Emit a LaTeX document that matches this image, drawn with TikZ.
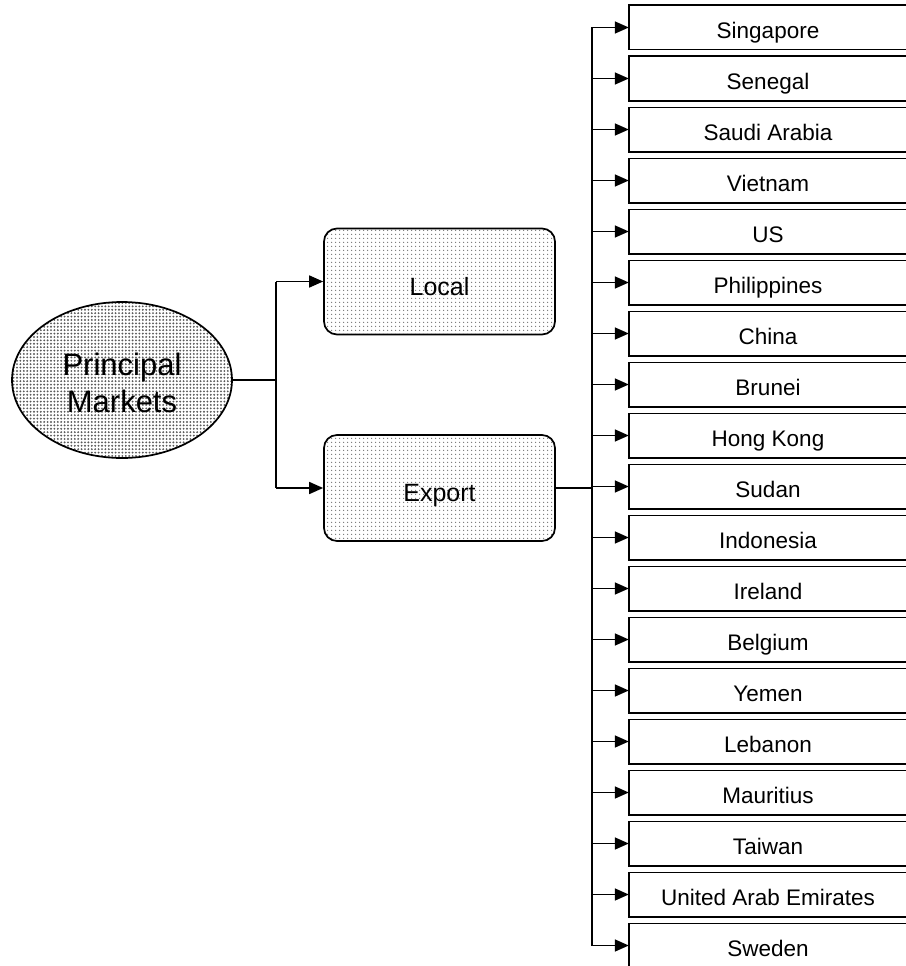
\documentclass[tikz,border=0pt]{standalone}
\usepackage{fontspec}
\setmainfont{Liberation Sans}
\usetikzlibrary{arrows.meta,patterns.meta,shapes.geometric}
\begin{document}
\begin{tikzpicture}[x=1pt,y=-1pt,
  conn/.style={line width=1.6pt},
  arr/.style={line width=1.6pt,-{Triangle[length=14pt,width=12pt]}},
  ovalbox/.style={ellipse,draw,line width=1.7pt,minimum width=220pt,minimum height=156pt,inner sep=0pt,
    pattern={Dots[distance=3.4pt,radius=1.05pt]},pattern color=black!65,
    font=\fontsize{31}{37}\selectfont},
  roundbox/.style={draw,line width=1.7pt,rounded corners=13pt,minimum width=231pt,minimum height=106pt,inner sep=0pt,
    pattern={Dots[distance=4pt,radius=0.85pt]},pattern color=black!55,
    font=\fontsize{25}{28}\selectfont,text height=27.5pt,text depth=0pt},
  ctext/.style={minimum width=278pt,minimum height=44pt,inner sep=0pt,font=\fontsize{22.5}{26}\selectfont,
    text height=21pt,text depth=0pt},
  cside/.style={line width=1.6pt}
]
\useasboundingbox (0,0) rectangle (905,966);
\node[ovalbox] (pm) at (122,380) {\raisebox{-13pt}[0pt][0pt]{\renewcommand{\arraystretch}{1}\begin{tabular}{@{}c@{}}Principal\\Markets\end{tabular}}};
\node[roundbox] (local) at (439.5,281.5) {Local};
\node[roundbox] (export) at (439.5,488) {Export};
\coordinate (sj) at (276,380);
\coordinate (sl) at (276,281.5);
\coordinate (se) at (276,488);
\draw[conn] (pm.east) -- (sj);
\draw[conn] (sl) -- (se);
\draw[arr] (sl) -- (local.west);
\draw[arr] (se) -- (export.west);
\coordinate (ej) at (592,488);
\draw[conn] (export.east) -- (ej);
\foreach \cname [count=\i from 0] in {Singapore,Senegal,Saudi Arabia,Vietnam,US,Philippines,China,Brunei,Hong Kong,Sudan,Indonesia,Ireland,Belgium,Yemen,Lebanon,Mauritius,Taiwan,United Arab Emirates,Sweden}{
  \node[ctext] (c\i) at (768,27.5+51*\i) {\cname};
  \draw[cside] (c\i.north east) -- (c\i.north west) -- (c\i.south west) -- (c\i.south east);
  \coordinate (t\i) at (592,27.5+51*\i);
  \draw[arr] (t\i) -- (c\i.west);
}
\draw[conn] (t0) -- (t18);
\end{tikzpicture}
\end{document}
